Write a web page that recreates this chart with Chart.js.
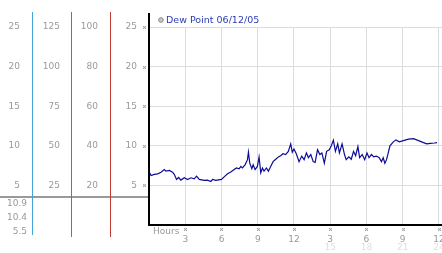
<!DOCTYPE html>
<html><head><meta charset="utf-8">
<style>html,body{margin:0;padding:0;background:#fff;}#wrap{width:442px;height:253px;}</style>
<script src="https://cdn.jsdelivr.net/npm/chart.js@4/dist/chart.umd.min.js"></script>
</head><body><div id="wrap"><canvas id="c" width="442" height="253"></canvas></div>
<script>
const legendLabel = 'Dew Point 06/12/05';
const hours = [0.03,0.17,0.44,0.72,0.99,1.27,1.40,1.68,1.95,2.09,2.28,2.45,2.64,2.92,3.19,3.47,3.74,3.94,4.16,4.57,4.84,5.12,5.26,5.53,6.0,6.22,6.50,6.77,7.05,7.24,7.46,7.60,7.73,7.95,8.15,8.23,8.34,8.51,8.62,8.78,8.97,9.11,9.25,9.39,9.52,9.72,9.88,10.07,10.27,10.49,10.71,10.90,11.09,11.31,11.53,11.73,11.86,12.0,12.19,12.42,12.64,12.84,13.03,13.20,13.39,13.59,13.75,13.95,14.14,14.31,14.51,14.70,14.92,15.06,15.26,15.43,15.62,15.76,15.98,16.18,16.32,16.54,16.74,16.93,17.10,17.29,17.43,17.65,17.85,18.04,18.21,18.41,18.60,18.82,19.05,19.24,19.38,19.52,19.66,19.80,19.94,20.22,20.44,20.72,21.05,21.47,21.89,22.31,22.72,23.0,23.28,23.62,23.84];
const dewPoint = [6.67,6.25,6.4,6.46,6.67,7.0,6.8,6.9,6.67,6.4,5.75,6.0,5.67,5.96,5.75,5.96,5.83,6.17,5.75,5.63,5.67,5.5,5.75,5.63,5.75,6.08,6.46,6.7,7.0,7.2,7.1,7.4,7.2,7.6,8.25,9.2,7.8,7.1,7.6,7.0,7.4,8.6,6.6,7.2,6.8,7.2,6.8,7.4,8.0,8.3,8.6,8.75,9.0,8.9,9.3,10.25,9.2,9.6,9.0,8.0,8.7,8.25,9.1,8.5,8.9,8.0,7.9,9.5,8.9,9.1,7.8,9.3,9.5,9.9,10.7,9.3,10.25,9.1,10.25,8.9,8.25,8.6,8.3,9.3,8.75,9.9,8.5,8.9,8.25,9.1,8.5,8.9,8.6,8.7,8.5,8.0,8.5,7.8,8.25,9.1,10.0,10.5,10.75,10.5,10.65,10.85,10.9,10.65,10.4,10.25,10.3,10.35,10.4];
const hourTicks = [0,3,6,9,12,15,18,21,24];
const hourLabels = ['','3','6','9','12','3','6','9','12'];
const hourLabels24 = ['','','','','','15','18','21','24'];
const axisLabelText = 'Hours';
const scaleA = [0,25,5];    // min, max, step
const scaleB = [0,125,25];
const scaleC = [0,100,20];
const scaleMain = [0,25,5];
const summaryValues = ['10.9','10.4','5.5'];

Chart.defaults.font.family = 'DejaVu Sans';
Chart.defaults.font.size = 9;
Chart.defaults.color = '#999';

const hideZero = v => v === 0 ? '' : String(v);
function leftAxis(r, weight, width, pad) {
  return {
    position: 'left', weight: weight, min: r[0], max: r[1],
    ticks: { stepSize: r[2], callback: hideZero, padding: pad, color: '#999', font: {size: 9} },
    grid: { display: false, drawTicks: false },
    border: { display: false },
    afterFit: s => { s.width = width; }
  };
}

function mark(ctx, x, y) {
  ctx.fillStyle = '#aaa';
  ctx.fillRect(x, y, 1, 1); ctx.fillRect(x + 2, y, 1, 1);
  ctx.fillRect(x + 1, y + 1, 1, 1);
  ctx.fillRect(x, y + 2, 1, 1); ctx.fillRect(x + 2, y + 2, 1, 1);
  ctx.fillStyle = '#ddd';
  ctx.fillRect(x + 1, y, 1, 1); ctx.fillRect(x, y + 1, 1, 1);
  ctx.fillRect(x + 2, y + 1, 1, 1); ctx.fillRect(x + 1, y + 2, 1, 1);
}

const deco = {
  id: 'deco',
  afterDraw(chart) {
    const {ctx, chartArea: ca, scales} = chart;
    const W = chart.width;
    ctx.save();
    const sepY = Math.round(ca.bottom) - 29;
    ctx.fillStyle = '#999';
    ctx.fillRect(0, sepY, Math.round(ca.left), 2);
    const lines = [['yA', '#44a6d6', 10], ['yB', '#22b022', 12], ['yC', '#c23a32', 12]];
    lines.forEach(([id, col, ext]) => {
      const s = scales[id];
      ctx.fillStyle = col;
      ctx.fillRect(Math.round(s.right) - 1, Math.round(ca.top) - 15, 1, Math.round(ca.bottom - ca.top) + 15 + ext);
    });
    // main axes
    ctx.fillStyle = '#000';
    ctx.fillRect(Math.round(ca.left) - 1, Math.round(ca.top) - 14, 2, Math.round(ca.bottom - ca.top) + 15);
    ctx.fillRect(Math.round(ca.left) - 1, Math.round(ca.bottom) - 1, W - Math.round(ca.left) + 1, 2);
    // tick marks
    scales.y.ticks.forEach(t => { if (t.value !== 0) mark(ctx, Math.round(ca.left) - 6, Math.round(scales.y.getPixelForValue(t.value)) - 1); });
    scales.x.ticks.forEach(t => { if (t.value !== 0) mark(ctx, Math.round(scales.x.getPixelForValue(t.value)) - 1, Math.round(ca.bottom) + 3); });
    // axis title
    ctx.font = '9px "DejaVu Sans"';
    ctx.fillStyle = '#999';
    ctx.textAlign = 'left'; ctx.textBaseline = 'middle';
    ctx.fillText(axisLabelText, Math.round(ca.left) + 4, Math.round(ca.bottom) + 7);
    // summary values
    ctx.textAlign = 'right';
    const sx = Math.round(scales.yA.right) - 6;
    summaryValues.forEach((v, i) => ctx.fillText(v, sx, sepY + 8 + i * 13.7));
    // legend
    const lx = Math.round(ca.left) + 12, ly = Math.round(ca.top) - 7;
    ctx.beginPath(); ctx.arc(lx, ly, 2.3, 0, Math.PI * 2);
    ctx.fillStyle = '#c8c8c8'; ctx.fill(); ctx.strokeStyle = '#8a8a8a'; ctx.lineWidth = 1; ctx.stroke();
    ctx.font = '9.5px "DejaVu Sans"';
    ctx.fillStyle = '#2b3cb4'; ctx.textAlign = 'left';
    ctx.fillText(legendLabel, lx + 5, ly + 0.5);
    ctx.restore();
  }
};

const noPad = s => { s.paddingLeft = 0; s.paddingRight = 0; };

new Chart(document.getElementById('c'), {
  type: 'line',
  data: {
    datasets: [{
      label: legendLabel,
      data: hours.map((h, i) => ({x: h, y: dewPoint[i]})),
      borderColor: '#0c0c96', borderWidth: 1.2, pointRadius: 0, tension: 0, fill: false
    }]
  },
  options: {
    responsive: false, animation: false, devicePixelRatio: 1,
    layout: { padding: { top: 27, right: 0, bottom: 0, left: 0 } },
    plugins: { legend: { display: false }, tooltip: { enabled: false } },
    scales: {
      x: {
        type: 'linear', position: 'bottom', weight: 0, min: 0, max: 24.25,
        afterBuildTicks: s => { s.ticks = hourTicks.map(v => ({value: v})); },
        ticks: { autoSkip: false, maxRotation: 0, padding: 9, color: '#999',
          callback: (v) => { const i = hourTicks.indexOf(v); return i >= 0 ? hourLabels[i] : ''; } },
        grid: { color: '#dcdcdc', drawTicks: false },
        border: { display: false },
        afterFit: s => { s.height = 17; noPad(s); }
      },
      x2: {
        type: 'linear', position: 'bottom', weight: 1, min: 0, max: 24.25,
        afterBuildTicks: s => { s.ticks = hourTicks.map(v => ({value: v})); },
        ticks: { autoSkip: false, maxRotation: 0, padding: 0, color: '#dedede',
          callback: (v) => { const i = hourTicks.indexOf(v); return i >= 0 ? hourLabels24[i] : ''; } },
        grid: { display: false, drawTicks: false },
        border: { display: false },
        afterFit: s => { s.height = 11; noPad(s); }
      },
      y: Object.assign(leftAxis(scaleMain, 0, 38, 12), { grid: { color: '#dcdcdc', drawTicks: false } }),
      yC: leftAxis(scaleC, 1, 39, 13),
      yB: leftAxis(scaleB, 2, 39, 12),
      yA: leftAxis(scaleA, 3, 33, 13)
    }
  },
  plugins: [deco]
});
</script>
</body></html>
